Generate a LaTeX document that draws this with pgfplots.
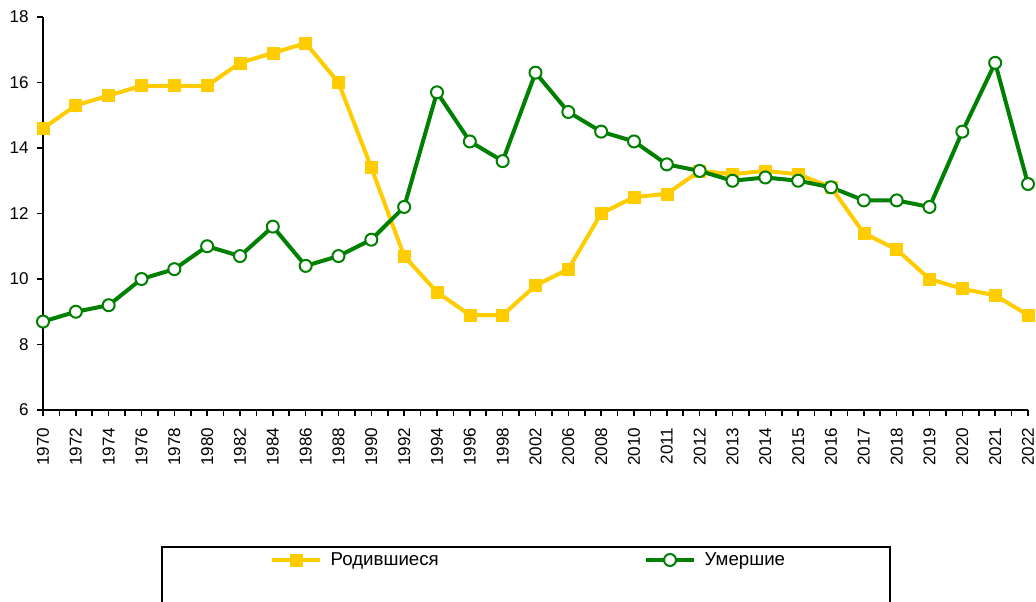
\documentclass[border=0pt]{standalone}
\usepackage{fontspec}
\setmainfont{Liberation Sans}
\usepackage{pgfplots}
\pgfplotsset{compat=1.18}
\definecolor{cyel}{HTML}{FFCC00}
\definecolor{cgrn}{HTML}{008000}
\begin{document}
\begin{tikzpicture}
\begin{axis}[
  at={(0,0)}, anchor=south west,
  scale only axis,
  width=738.75pt, height=294.75pt,
  xmin=0, xmax=30, ymin=6, ymax=18,
  axis x line=bottom, axis y line=left,
  axis line style={line width=1.5pt, -},
  xtick={0,...,30},
  xticklabels={1970,1972,1974,1976,1978,1980,1982,1984,1986,1988,1990,1992,1994,1996,1998,2002,2006,2008,2010,2011,2012,2013,2014,2015,2016,2017,2018,2019,2020,2021,2022},
  minor x tick num=1,
  ytick={6,8,...,18},
  tick align=outside,
  major tick length=4.5pt, minor tick length=4.5pt,
  tick style={line width=1.2pt, black},
  x tick label style={rotate=90, anchor=east, font=\fontsize{12.8}{14}\selectfont, inner sep=8.5pt},
  y tick label style={font=\fontsize{12.8}{14}\selectfont, inner sep=6pt},
  /pgf/number format/assume math mode=true,
  clip=false,
  legend columns=2,
  legend style={draw=none, fill=none, at={(0.2305,-0.3817)}, anchor=west, inner sep=0pt, outer sep=0pt,
    font=\fontsize{14}{16}\selectfont,
    /tikz/every odd column/.append style={column sep=4.5pt}},
  legend cell align=left,
  legend image code/.code={\draw[mark repeat=2,mark phase=2,#1] plot coordinates {(0pt,0pt) (18pt,0pt) (36pt,0pt)};},
]
\addplot[color=cyel, line width=3pt, mark=square*, mark size=4.5pt, mark options={fill=cyel, draw=cyel, line width=0.5pt}] coordinates {
(0,14.6) (1,15.3) (2,15.6) (3,15.9) (4,15.9) (5,15.9) (6,16.6) (7,16.9) (8,17.2) (9,16.0)
(10,13.4) (11,10.7) (12,9.6) (13,8.9) (14,8.9) (15,9.8) (16,10.3) (17,12.0) (18,12.5) (19,12.6)
(20,13.3) (21,13.2) (22,13.3) (23,13.2) (24,12.8) (25,11.4) (26,10.9) (27,10.0) (28,9.7) (29,9.5) (30,8.9)};
\addlegendentry{\makebox[233pt][l]{Родившиеся}}
\addplot[color=cgrn, line width=3pt, mark=*, mark size=4.5pt, mark options={fill=white, draw=cgrn, line width=1.5pt}] coordinates {
(0,8.7) (1,9.0) (2,9.2) (3,10.0) (4,10.3) (5,11.0) (6,10.7) (7,11.6) (8,10.4) (9,10.7)
(10,11.2) (11,12.2) (12,15.7) (13,14.2) (14,13.6) (15,16.3) (16,15.1) (17,14.5) (18,14.2) (19,13.5)
(20,13.3) (21,13.0) (22,13.1) (23,13.0) (24,12.8) (25,12.4) (26,12.4) (27,12.2) (28,14.5) (29,16.6) (30,12.9)};
\addlegendentry{Умершие}
\end{axis}
\draw[line width=1.1pt] (89.25pt,-102.75pt) rectangle (635.25pt,-170pt);
\pgfresetboundingbox
\path[use as bounding box] (-32.25pt,-144pt) rectangle (744.75pt,307.5pt);
\end{tikzpicture}
\end{document}
